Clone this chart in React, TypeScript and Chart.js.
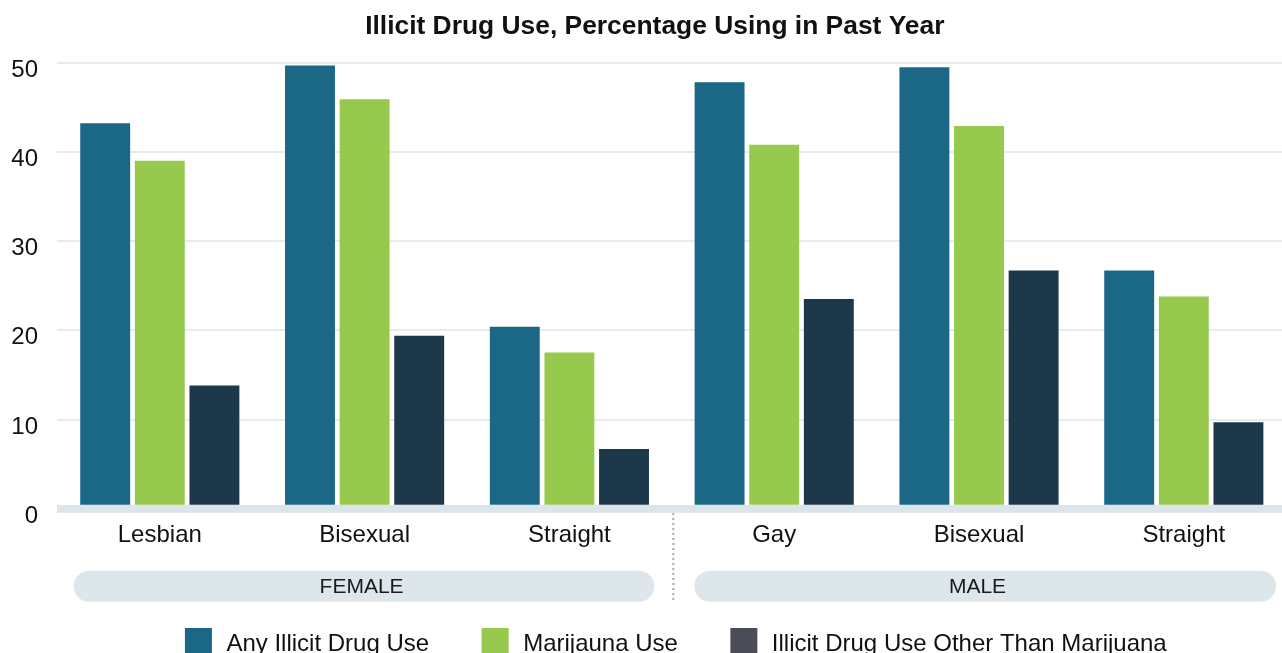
import React, { useEffect, useRef } from "react";
import { Chart, registerables } from "chart.js";

Chart.register(...registerables);

// Orientation groups along the x axis
const categories = ["Lesbian", "Bisexual", "Straight", "Gay", "Bisexual", "Straight"];
const sexGroups = ["FEMALE", "MALE"];

// Percentage using in the past year
const anyIllicit = [43.2, 49.7, 20.4, 47.8, 49.5, 26.7];
const marijuana = [39.0, 45.9, 17.5, 40.8, 42.9, 23.8];
const otherThanMarijuana = [13.8, 19.4, 6.7, 23.5, 26.7, 9.7];

const seriesNames = ["Any Illicit Drug Use", "Marijauna Use", "Illicit Drug Use Other Than Marijuana"];
const barColors = ["#1b6886", "#97c94e", "#1e384b"];
const legendColors = ["#1b6886", "#97c94e", "#4a4d56"];

const yTicks = [0, 10, 20, 30, 40, 50];
const chartTitle = "Illicit Drug Use, Percentage Using in Past Year";

const FONT = '"Liberation Sans", Arial, sans-serif';

const decorations = {
  id: "decorations",
  afterDraw(chart: any) {
    const { ctx, chartArea } = chart;
    const x = chart.scales.x;
    ctx.save();

    // Title
    ctx.fillStyle = "#111";
    ctx.font = `bold 26.4px ${FONT}`;
    ctx.textAlign = "center";
    ctx.textBaseline = "alphabetic";
    ctx.fillText(chartTitle, 654.8, 33.8);

    // Dotted divider between the two sex groups
    const divider = (x.getPixelForValue(2) + x.getPixelForValue(3)) / 2 + 1.5;
    ctx.strokeStyle = "#a9a9a9";
    ctx.lineWidth = 2;
    ctx.setLineDash([2, 3]);
    ctx.beginPath();
    ctx.moveTo(divider, 513);
    ctx.lineTo(divider, 603);
    ctx.stroke();
    ctx.setLineDash([]);

    // Group pills
    const pillTop = 570.7;
    const pillH = 31;
    const pills = [
      { left: chartArea.left + 16.3, right: divider - 19, cx: x.getPixelForValue(1) - 3 },
      { left: divider + 21, right: divider + 602.7, cx: x.getPixelForValue(4) - 1.5 },
    ];
    pills.forEach((p, i) => {
      ctx.fillStyle = "#dde7eb";
      ctx.beginPath();
      ctx.roundRect(p.left, pillTop, p.right - p.left, pillH, pillH / 2);
      ctx.fill();
      ctx.fillStyle = "#1a1a1a";
      ctx.font = `21px ${FONT}`;
      ctx.textAlign = "center";
      ctx.textBaseline = "middle";
      ctx.fillText(sexGroups[i], p.cx, pillTop + pillH / 2 + 1.5);
    });

    // Legend
    ctx.font = `24px ${FONT}`;
    const box = 27;
    const textGap = 14.5;
    const itemGap = 52.5;
    const widths = seriesNames.map((n) => box + textGap + ctx.measureText(n).width);
    const total = widths.reduce((a, b) => a + b, 0) + itemGap * (widths.length - 1);
    let lx = (chartArea.left + chartArea.right) / 2 + 4 - total / 2;
    seriesNames.forEach((name, i) => {
      ctx.fillStyle = legendColors[i];
      ctx.fillRect(lx, 628, box, box);
      ctx.fillStyle = "#111";
      ctx.textAlign = "left";
      ctx.textBaseline = "alphabetic";
      ctx.fillText(name, lx + box + textGap, 650.6);
      lx += widths[i] + itemGap;
    });

    ctx.restore();
  },
};

export default function App() {
  const canvasRef = useRef<HTMLCanvasElement | null>(null);

  useEffect(() => {
    if (!canvasRef.current) return;
    const chart = new Chart(canvasRef.current, {
      type: "bar",
      data: {
        labels: categories,
        datasets: [
          { label: seriesNames[0], data: anyIllicit, backgroundColor: barColors[0] },
          { label: seriesNames[1], data: marijuana, backgroundColor: barColors[1] },
          { label: seriesNames[2], data: otherThanMarijuana, backgroundColor: barColors[2] },
        ],
      },
      options: {
        animation: false,
        responsive: false,
        devicePixelRatio: 1,
        layout: { padding: { top: 62.7, right: 23.8, left: 0, bottom: 0 } },
        datasets: {
          bar: { categoryPercentage: 0.8, barPercentage: 0.914 },
        },
        plugins: {
          legend: { display: false },
          title: { display: false },
          tooltip: { enabled: false },
        },
        scales: {
          x: {
            grid: { display: false },
            border: { display: false },
            ticks: {
              color: "#111",
              font: { family: FONT, size: 24 },
              padding: 4.4,
              maxRotation: 0,
              autoSkip: false,
            },
            afterFit: (s: any) => {
              s.height = 653 - 508.7;
            },
          },
          y: {
            min: 0,
            max: 50,
            afterBuildTicks: (s: any) => {
              s.ticks = yTicks.map((v) => ({ value: v }));
            },
            grid: {
              drawTicks: false,
              color: (c: any) => (c.tick && c.tick.value === 0 ? "#dbe5ea" : "#e4ecef"),
              lineWidth: (c: any) => (c.tick && c.tick.value === 0 ? 7.7 : 2),
            },
            border: { display: false },
            ticks: {
              color: "#111",
              font: { family: FONT, size: 24 },
              padding: 19.4,
              labelOffset: 7.5,
            },
            afterFit: (s: any) => {
              s.width = 57.4;
            },
          },
        },
      },
      plugins: [decorations],
    });
    return () => chart.destroy();
  }, []);

  return (
    <div style={{ position: "fixed", left: 0, top: 0, width: 1282, height: 653, overflow: "hidden", background: "#fff" }}>
      <canvas ref={canvasRef} width={1310} height={653} style={{ width: 1310, height: 653, display: "block" }} />
    </div>
  );
}
